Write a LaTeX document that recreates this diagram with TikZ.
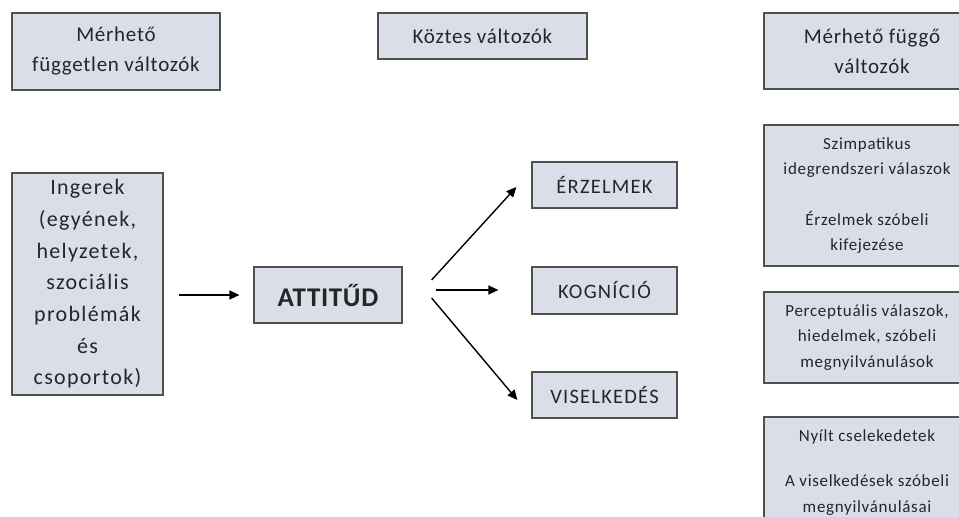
\documentclass[tikz,border=0pt]{standalone}
\usepackage{fontspec}
\setmainfont{Carlito}
\usetikzlibrary{arrows.meta}
\definecolor{boxfill}{HTML}{D9DEE8}
\definecolor{boxline}{HTML}{505050}
\definecolor{ink}{HTML}{262626}
\newcommand{\tracked}[3]{\fontsize{#1}{#2}\selectfont\addfontfeature{LetterSpace=#3}}
\begin{document}
\begin{tikzpicture}[x=1pt,y=-1pt,
  box/.style={draw=boxline,line width=1.2pt,fill=boxfill,text=ink,align=center,
    inner sep=0pt,anchor=center},
  big/.style={font=\tracked{21}{30}{3.5}},
  tall/.style={font=\tracked{22}{31.7}{6}},
  caps/.style={font=\tracked{20.5}{22}{6}},
  small/.style={font=\tracked{17}{25.5}{4}},
  flow/.style={-{Triangle[length=10pt,width=9pt]},line width=1.4pt,draw=black}]
\useasboundingbox (0,0) rectangle (959,517);
\clip (0,0) rectangle (959,517);

% column headings
\node[box,big,minimum width=208pt,minimum height=77pt] (indep) at (116,51.5)
  {Mérhető\\független változók};
\node[box,big,minimum width=209pt,minimum height=46pt] (inter) at (482.5,36)
  {Köztes változók};
\node[box,big,minimum width=216pt,minimum height=76pt] (dep) at (872,51)
  {Mérhető függő\\változók};

% stimulus, attitude and its three components
\node[box,tall,minimum width=151pt,minimum height=222pt] (stim) at (87.5,284)
  {Ingerek\\(egyének,\\helyzetek,\\szociális\\problémák\\és\\csoportok)};
\node[box,minimum width=148pt,minimum height=56pt,font=\tracked{27}{30}{2.5}\bfseries]
  (att) at (328,295) {ATTITŰD};
\node[box,caps,minimum width=145pt,minimum height=46pt] (erz) at (604.5,185) {ÉRZELMEK};
\node[box,caps,minimum width=145pt,minimum height=47pt] (kog) at (604.5,290.5) {KOGNÍCIÓ};
\node[box,caps,minimum width=145pt,minimum height=46pt] (vis) at (604.5,395) {VISELKEDÉS};

% measurable responses (the right column runs past the page edge)
\node[box,small,minimum width=206pt,minimum height=141pt] (r1) at (867,195.5)
  {Szimpatikus\\idegrendszeri válaszok\\[25pt]Érzelmek szóbeli\\kifejezése};
\node[box,small,minimum width=206pt,minimum height=91pt] (r2) at (867,337.5)
  {Perceptuális válaszok,\\hiedelmek, szóbeli\\megnyilvánulások};
\node[box,small,minimum width=206pt,minimum height=108pt,text depth=0pt] (r3) at (867,471)
  {Nyílt cselekedetek\\[20pt]A viselkedések szóbeli\\megnyilvánulásai};

% arrows
\draw[flow,shorten <=15pt,shorten >=14pt] (stim.east |- att.west) -- (att.west);
\draw[flow] ([shift={(29,-15)}]att.east) -- ([shift={(-15,2)}]erz.west);
\draw[flow] ([shift={(33,-5)}]att.east) -- ([shift={(-33,-0.5)}]kog.west);
\draw[flow] ([shift={(29,3)}]att.east) -- ([shift={(-14,5)}]vis.west);
\end{tikzpicture}
\end{document}
